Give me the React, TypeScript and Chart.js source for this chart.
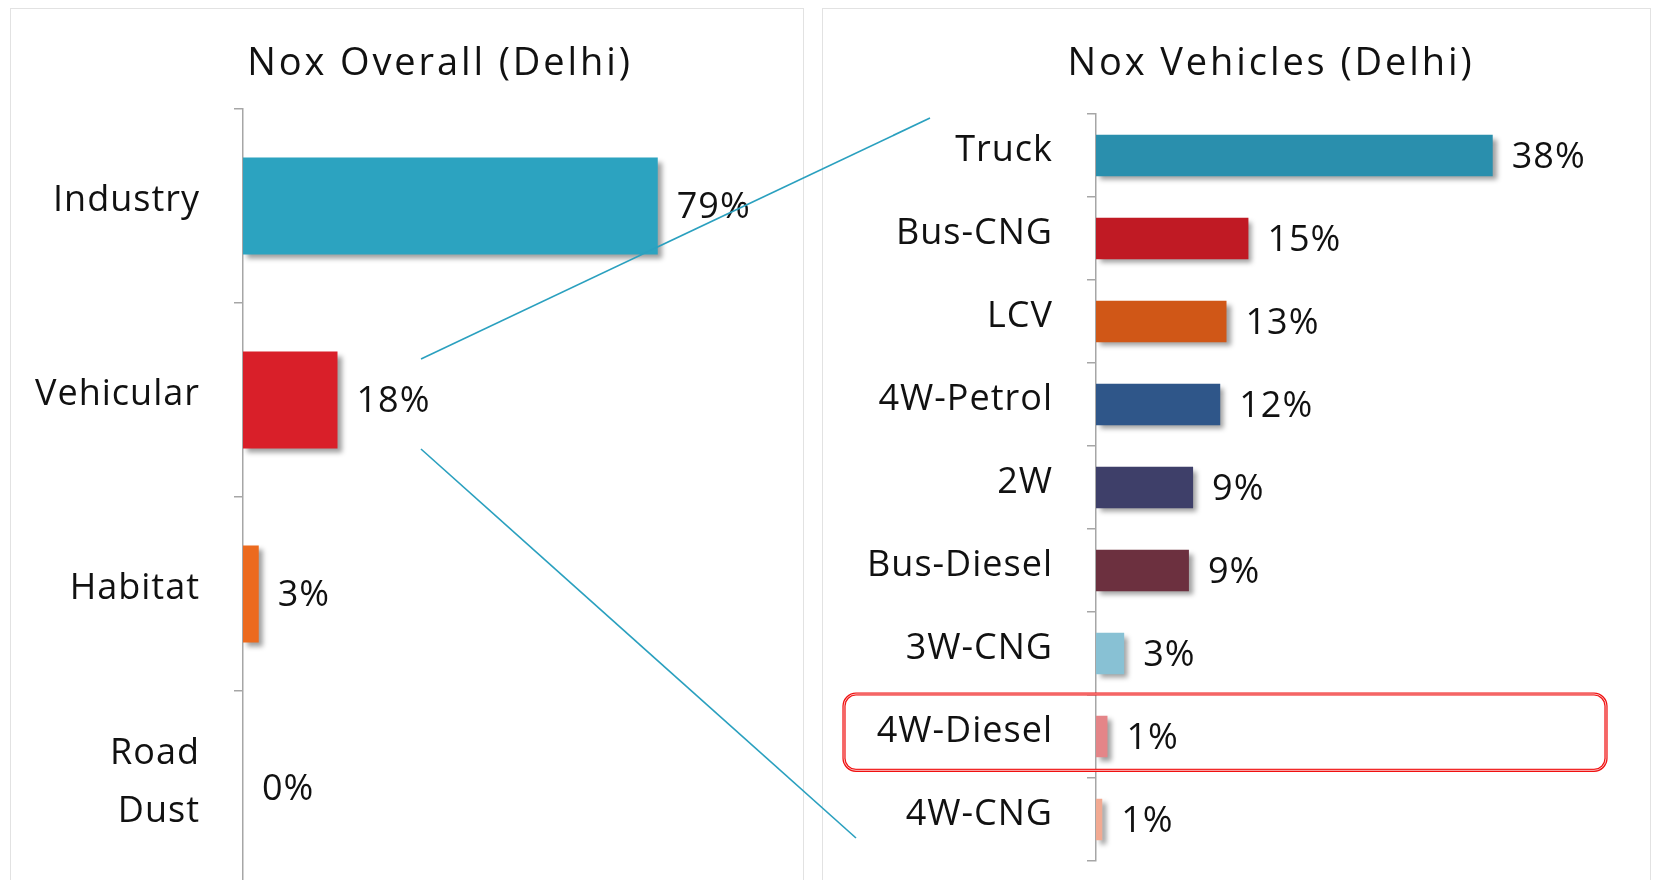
import React, { useEffect, useRef } from 'react';
import { Chart, registerables } from 'chart.js';

Chart.register(...registerables);

// ---------- data ----------
const overallTitle = 'Nox Overall (Delhi)';
const overallCategories: (string | string[])[] = ['Industry', 'Vehicular', 'Habitat', ['Road', 'Dust']];
const overallValues = [79, 18, 3, 0];
const overallColors = ['#2CA3C0', '#D91F29', '#EC6A1E', '#8FA8C8'];

const vehicleTitle = 'Nox Vehicles (Delhi)';
const vehicleCategories = ['Truck', 'Bus-CNG', 'LCV', '4W-Petrol', '2W', 'Bus-Diesel', '3W-CNG', '4W-Diesel', '4W-CNG'];
const vehicleValues = [38, 14.6, 12.5, 11.9, 9.3, 8.9, 2.7, 1.1, 0.6];
const vehicleColors = ['#2A8FAD', '#C01A24', '#D05717', '#2F5689', '#3E3F69', '#6C303F', '#88C1D4', '#E48588', '#F2AA92'];
const highlightCategory = '4W-Diesel';

const FONT = '"Open Sans", "DejaVu Sans", sans-serif';
const TEAL = '#2AA0BF';

const barDecor = {
  id: 'barDecor',
  beforeDraw(chart: any) {
    chart.ctx.letterSpacing = '1px';
  },
  beforeDatasetsDraw(chart: any) {
    const ctx = chart.ctx;
    ctx.save();
    ctx.shadowColor = 'rgba(0,0,0,0.38)';
    ctx.shadowBlur = 5;
    ctx.shadowOffsetX = 4;
    ctx.shadowOffsetY = 4;
  },
  afterDatasetsDraw(chart: any) {
    const ctx = chart.ctx;
    ctx.restore();
    const meta = chart.getDatasetMeta(0);
    const data = chart.data.datasets[0].data as number[];
    ctx.save();
    ctx.letterSpacing = '1px';
    ctx.font = `36px ${FONT}`;
    ctx.fillStyle = '#111';
    ctx.textAlign = 'left';
    ctx.textBaseline = 'middle';
    meta.data.forEach((bar: any, i: number) => {
      ctx.fillText(Math.round(data[i]) + '%', bar.x + 19, bar.y + 2);
    });
    ctx.restore();
  },
};

const highlightBox = {
  id: 'highlightBox',
  afterDraw(chart: any, _args: any, opts: any) {
    if (!opts || !opts.label) return;
    const labels = chart.data.labels as any[];
    const idx = labels.indexOf(opts.label);
    if (idx < 0) return;
    const y = chart.scales.y;
    const cy = y.getPixelForValue(idx);
    const step = Math.abs(y.getPixelForValue(1) - y.getPixelForValue(0));
    const ctx = chart.ctx;
    const top = cy - step * 0.5 - 1;
    const h = step * 0.92;
    const left = chart.chartArea.left - 252;
    const right = chart.chartArea.right - 12;
    ctx.save();
    ctx.strokeStyle = '#F01010';
    ctx.lineWidth = 3.2;
    ctx.beginPath();
    (ctx as any).roundRect(left, top, right - left, h, 12);
    ctx.stroke();
    ctx.strokeStyle = 'rgba(255,255,255,0.9)';
    ctx.lineWidth = 0.8;
    ctx.beginPath();
    (ctx as any).roundRect(left, top, right - left, h, 12);
    ctx.stroke();
    ctx.restore();
  },
};

type Opts = {
  labels: any[];
  values: number[];
  colors: string[];
  max: number;
  axisWidth: number;
  padding: { top: number; bottom: number; right: number };
  highlight?: string;
};

function BarChart(props: Opts & { left: number; top: number; width: number; height: number }) {
  const ref = useRef<HTMLCanvasElement>(null);
  useEffect(() => {
    if (!ref.current) return;
    const chart = new Chart(ref.current, {
      type: 'bar',
      data: {
        labels: props.labels,
        datasets: [
          {
            data: props.values,
            backgroundColor: props.colors,
            borderWidth: 0,
            barPercentage: 1,
            categoryPercentage: 0.5,
          },
        ],
      },
      options: {
        indexAxis: 'y',
        responsive: false,
        animation: false,
        devicePixelRatio: 1,
        layout: { padding: { left: 0, top: props.padding.top, bottom: props.padding.bottom, right: props.padding.right } },
        plugins: {
          legend: { display: false },
          title: { display: false },
          tooltip: { enabled: false },
          highlightBox: { label: props.highlight },
        } as any,
        scales: {
          x: { display: false, min: 0, max: props.max },
          y: {
            afterFit: (scale: any) => {
              scale.width = props.axisWidth;
              scale.paddingTop = 0;
              scale.paddingBottom = 0;
            },
            border: { display: true, color: '#A6A6A6', width: 1.5 },
            grid: {
              offset: true,
              drawOnChartArea: false,
              drawTicks: true,
              tickLength: 9,
              color: '#A6A6A6',
              lineWidth: 1.5,
            },
            ticks: {
              color: '#111',
              padding: 34,
              labelOffset: -5,
              font: { family: FONT, size: 36, lineHeight: 1.6 },
            },
          },
        },
      },
      plugins: [barDecor, highlightBox],
    });
    return () => chart.destroy();
  }, []);
  return (
    <canvas
      ref={ref}
      width={props.width}
      height={props.height}
      style={{ position: 'absolute', left: props.left, top: props.top, width: props.width, height: props.height, zIndex: 2 }}
    />
  );
}

export default function App() {
  const titleStyle = (cx: number): React.CSSProperties => ({
    position: 'absolute',
    left: cx - 300,
    top: 41,
    width: 600,
    textAlign: 'center',
    fontFamily: FONT,
    fontSize: 38,
    lineHeight: '38px',
    letterSpacing: '2.9px',
    color: '#111',
    zIndex: 3,
  });
  return (
    <div style={{ position: 'fixed', left: 0, top: 0, width: 1657, height: 880, overflow: 'hidden', background: '#fff' }}>
      <div style={{ position: 'absolute', left: 10, top: 8, width: 794, height: 900, border: '1.5px solid #E2E2E2', boxSizing: 'border-box' }} />
      <div style={{ position: 'absolute', left: 822, top: 8, width: 829, height: 900, border: '1.5px solid #E2E2E2', boxSizing: 'border-box' }} />
      <div style={titleStyle(440)}>{overallTitle}</div>
      <div style={titleStyle(1271)}>{vehicleTitle}</div>
      <BarChart
        left={11}
        top={9}
        width={794}
        height={890}
        labels={overallCategories}
        values={overallValues}
        colors={overallColors}
        max={100}
        axisWidth={232}
        padding={{ top: 100, bottom: 14, right: 37 }}
      />
      <BarChart
        left={823}
        top={9}
        width={828}
        height={871}
        labels={vehicleCategories}
        values={vehicleValues}
        colors={vehicleColors}
        max={50}
        axisWidth={273}
        padding={{ top: 105, bottom: 19, right: 33 }}
        highlight={highlightCategory}
      />
      <svg width={1657} height={880} style={{ position: 'absolute', left: 0, top: 0, zIndex: 5, pointerEvents: 'none' }}>
        <line x1={421} y1={359} x2={930} y2={118} stroke={TEAL} strokeWidth={1.6} />
        <line x1={421} y1={449} x2={856} y2={838} stroke={TEAL} strokeWidth={1.6} />
      </svg>
    </div>
  );
}
